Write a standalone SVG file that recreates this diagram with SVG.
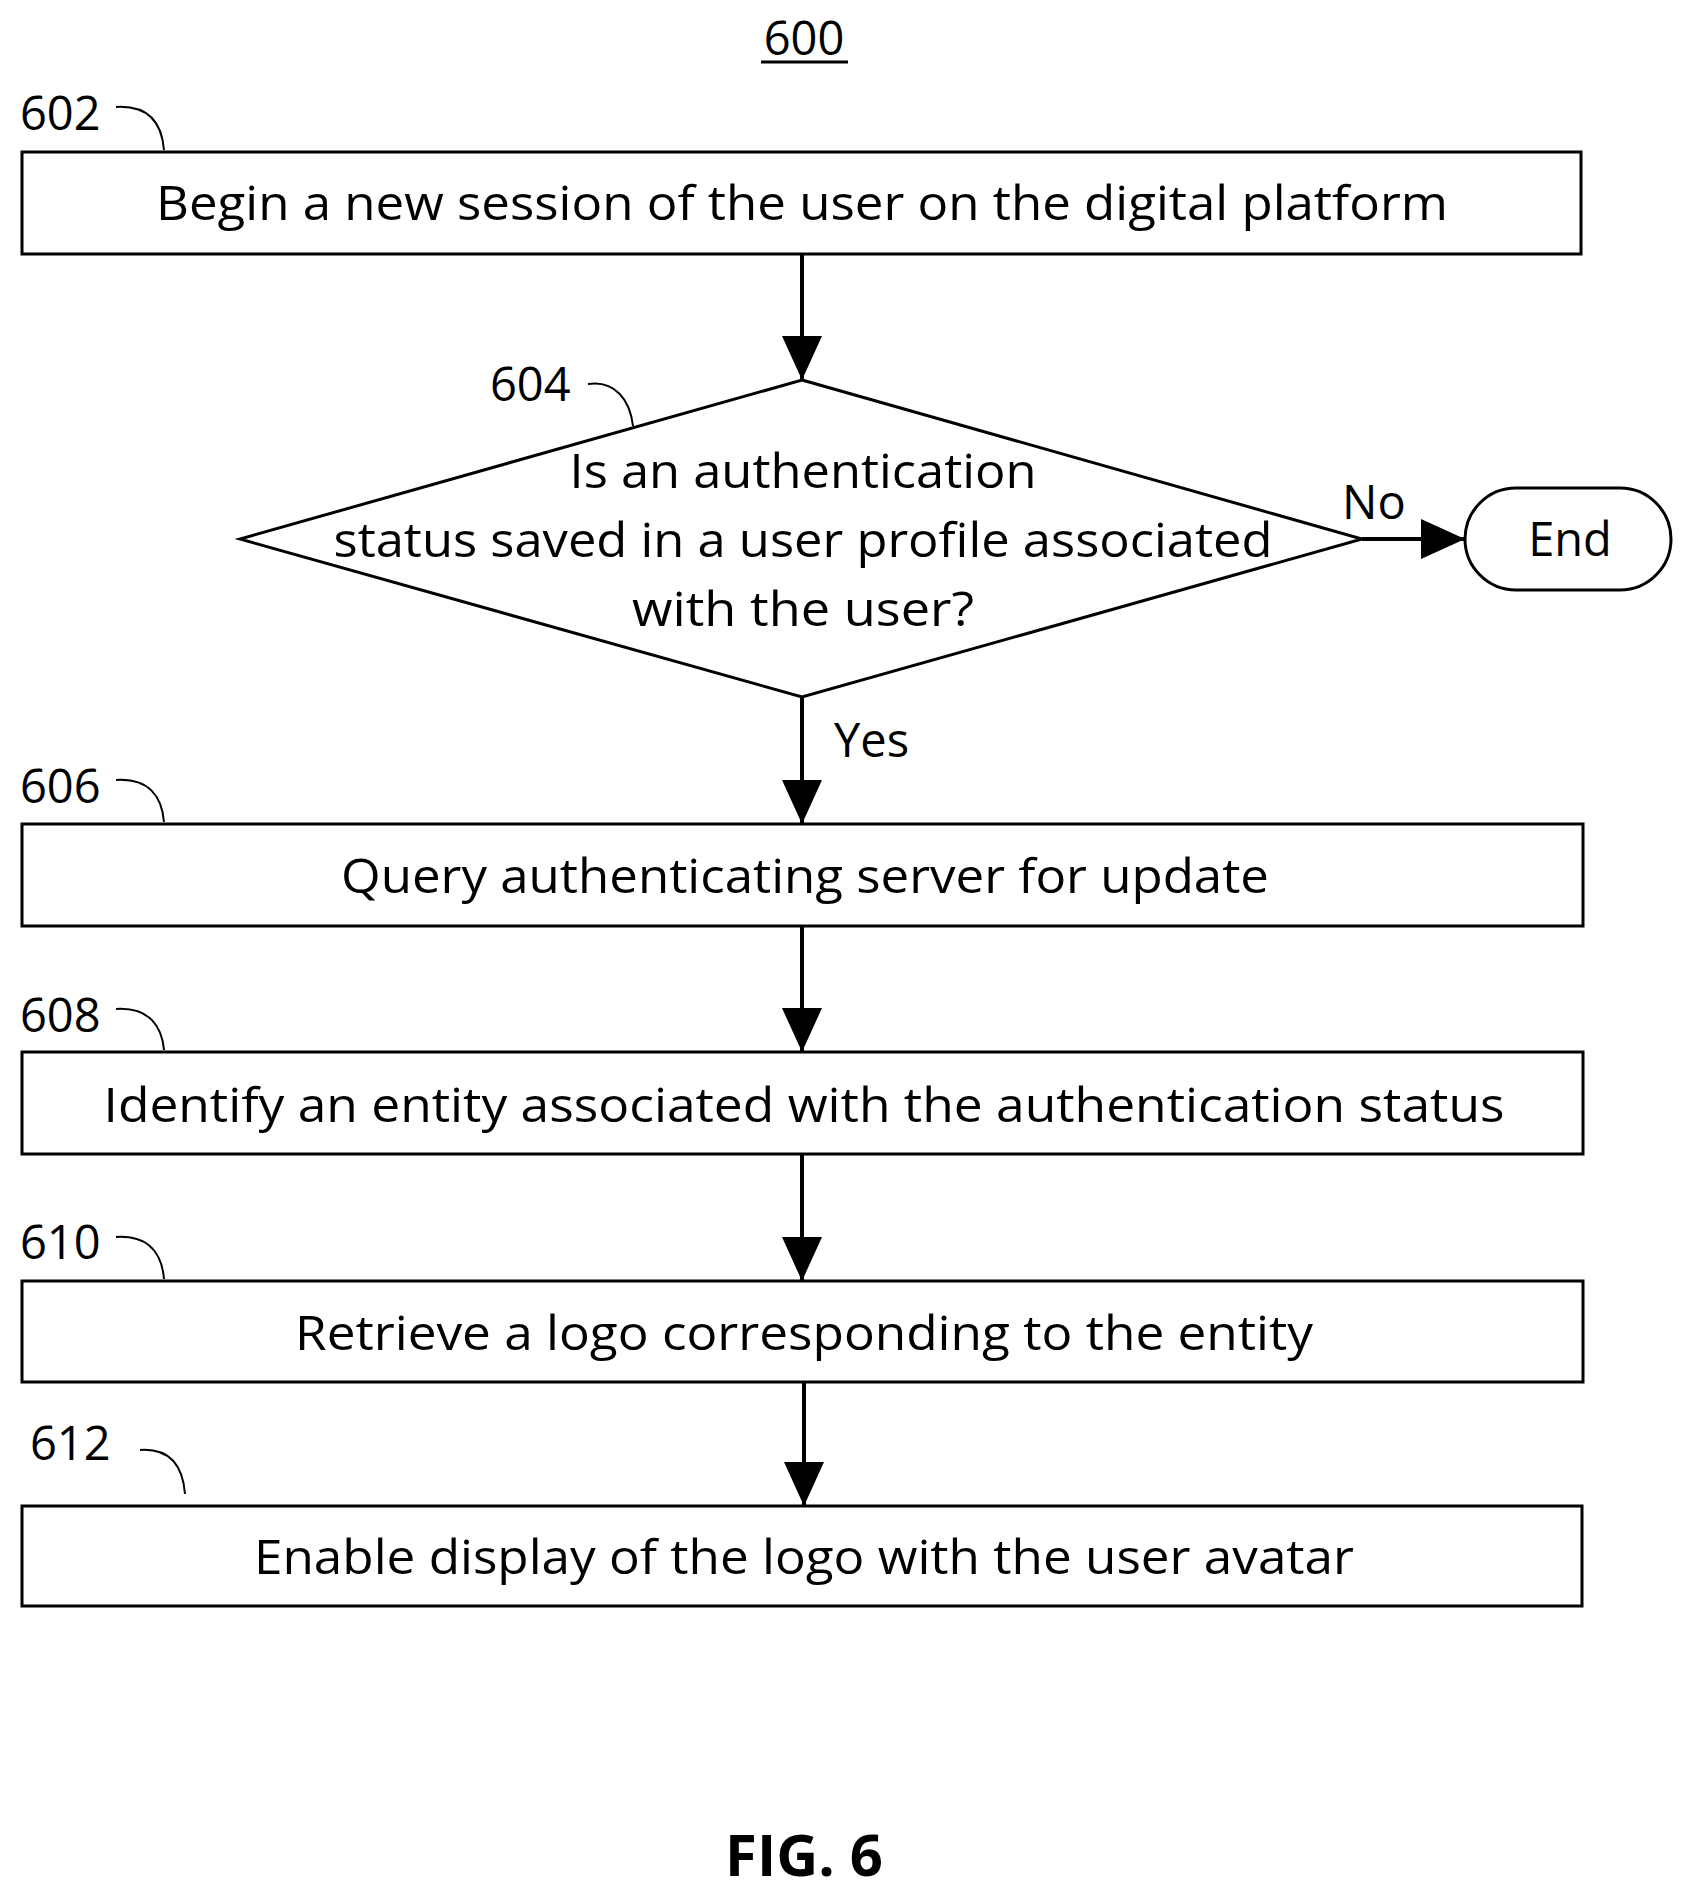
<svg xmlns="http://www.w3.org/2000/svg" width="1686" height="1898" viewBox="0 0 1686 1898">
<style>
text{font-family:"Open Sans","Liberation Sans",sans-serif;font-size:47px;fill:#000}
.t{text-anchor:middle}
.b{fill:#fff;stroke:#000;stroke-width:3}
.c{fill:none;stroke:#000;stroke-width:2}
.l{stroke:#000;stroke-width:4;fill:none;marker-end:url(#a)}
</style>
<defs><marker id="a" markerUnits="userSpaceOnUse" markerWidth="44" markerHeight="44" viewBox="0 0 44 44" refX="44" refY="22" orient="auto"><path d="M0,2 L44,22 L0,42 Z" fill="#000"/></marker></defs>
<rect width="1686" height="1898" fill="#fff"/>
<text class="t" x="804" y="55">600</text>
<line x1="761" y1="62" x2="848" y2="62" stroke="#000" stroke-width="3"/>
<g id="n602"><rect class="b" x="22" y="152" width="1559" height="102"/><text class="t" x="802" y="220" textLength="1292" lengthAdjust="spacingAndGlyphs">Begin a new session of the user on the digital platform</text><text x="20" y="130">602</text><path class="c" d="M116,107 C150,105 162,125 164,150"/></g>
<g id="n604"><polygon class="b" points="802,380 1362,539 802,697 240,539"/><text class="t" x="803" y="488" textLength="467" lengthAdjust="spacingAndGlyphs">Is an authentication</text><text class="t" x="803" y="557" textLength="939" lengthAdjust="spacingAndGlyphs">status saved in a user profile associated</text><text class="t" x="803" y="626" textLength="342" lengthAdjust="spacingAndGlyphs">with the user?</text><text x="490" y="401">604</text><path class="c" d="M588,384 C615,380 630,400 633,426"/></g>
<g id="end"><rect class="b" x="1465" y="488" width="206" height="102" rx="51"/><text class="t" x="1570" y="556">End</text></g>
<g id="n606"><rect class="b" x="22" y="824" width="1561" height="102"/><text class="t" x="805" y="893" textLength="928" lengthAdjust="spacingAndGlyphs">Query authenticating server for update</text><text x="20" y="803">606</text><path class="c" d="M116,780 C150,778 162,798 164,822"/></g>
<g id="n608"><rect class="b" x="22" y="1052" width="1561" height="102"/><text class="t" x="804" y="1122" textLength="1401" lengthAdjust="spacingAndGlyphs">Identify an entity associated with the authentication status</text><text x="20" y="1032">608</text><path class="c" d="M116,1009 C150,1007 162,1027 164,1050"/></g>
<g id="n610"><rect class="b" x="22" y="1281" width="1561" height="101"/><text class="t" x="804" y="1350" textLength="1018" lengthAdjust="spacingAndGlyphs">Retrieve a logo corresponding to the entity</text><text x="20" y="1259">610</text><path class="c" d="M116,1237 C150,1235 162,1255 164,1279"/></g>
<g id="n612"><rect class="b" x="22" y="1506" width="1560" height="100"/><text class="t" x="804" y="1574" textLength="1100" lengthAdjust="spacingAndGlyphs">Enable display of the logo with the user avatar</text><text x="30" y="1460">612</text><path class="c" d="M140,1450 C172,1448 183,1468 185,1494"/></g>
<g id="connectors">
<line class="l" x1="802" y1="254" x2="802" y2="380"/>
<line class="l" x1="1362" y1="539" x2="1465" y2="539"/>
<text x="1342" y="519">No</text>
<line class="l" x1="802" y1="697" x2="802" y2="824"/>
<text x="834" y="757">Yes</text>
<line class="l" x1="802" y1="926" x2="802" y2="1052"/>
<line class="l" x1="802" y1="1154" x2="802" y2="1281"/>
<line class="l" x1="804" y1="1382" x2="804" y2="1506"/>
</g>
<text class="t" x="804" y="1876" style="font-weight:bold;font-size:58px">FIG. 6</text>
</svg>
